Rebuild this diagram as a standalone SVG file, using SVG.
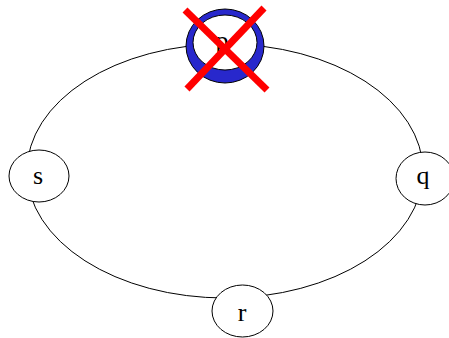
<svg xmlns="http://www.w3.org/2000/svg" width="449" height="338" viewBox="0 0 449 338">
<style>
.edge{fill:none;stroke:#000;stroke-width:1}
.node{fill:#fff;stroke:#000;stroke-width:1}
.lbl{font-family:"Liberation Serif","Times New Roman",serif;font-size:26px;text-anchor:middle;fill:#000}
.cross{stroke:#ff0000;stroke-width:7;stroke-linecap:butt}
</style>
<rect width="449" height="338" fill="#fff"/>
<g id="connectors">
<path class="edge" d="M225,44 A198,127 0 0 1 423,171"/>
<path class="edge" d="M423,171 A198,127 0 0 1 225,298"/>
<path class="edge" d="M225,298 A198,127 0 0 1 27,171"/>
<path class="edge" d="M27,171 A198,127 0 0 1 225,44"/>
</g>
<g id="node-s">
<ellipse class="node" cx="39" cy="176" rx="30" ry="26"/>
<text class="lbl" x="38" y="184">s</text>
</g>
<g id="node-q">
<ellipse class="node" cx="425" cy="178.5" rx="29" ry="26.5"/>
<text class="lbl" x="423" y="184">q</text>
</g>
<g id="node-r">
<ellipse class="node" cx="242.5" cy="311" rx="30.5" ry="26"/>
<text class="lbl" x="242" y="321">r</text>
</g>
<g id="node-p">
<ellipse cx="225" cy="46" rx="39" ry="37" fill="#2828cc" stroke="#000" stroke-width="1"/>
<ellipse class="node" cx="225" cy="42.5" rx="32" ry="27.5"/>
<text class="lbl" x="222" y="49">p</text>
<line class="cross" x1="185" y1="10" x2="267" y2="90"/>
<line class="cross" x1="264" y1="8" x2="187" y2="89"/>
</g>
</svg>
